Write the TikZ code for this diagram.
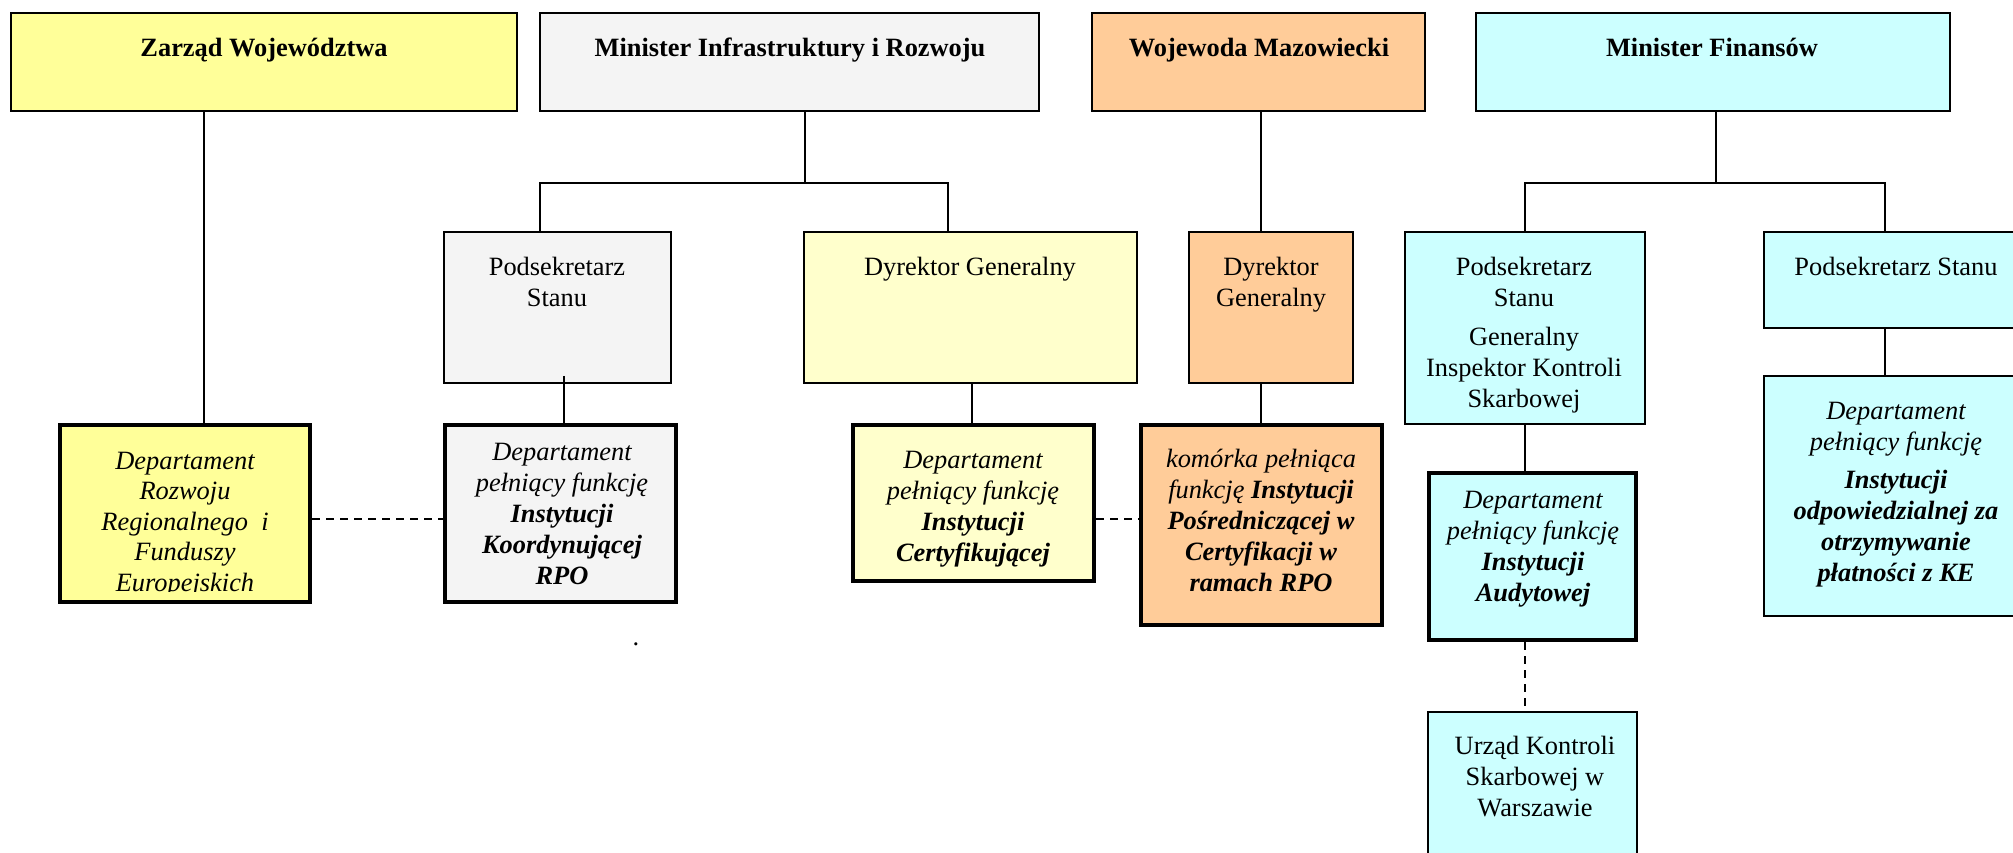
\documentclass[tikz,border=0pt]{standalone}
\usepackage{fontspec}
\setmainfont{Liberation Serif}
\usetikzlibrary{fit}
\definecolor{cyel}{HTML}{FFFF99}
\definecolor{cgray}{HTML}{F4F4F4}
\definecolor{clyel}{HTML}{FFFFCC}
\definecolor{corg}{HTML}{FFCC99}
\definecolor{ccyan}{HTML}{CCFFFF}
\tikzset{
  box/.style={draw=black, line width=0.75pt, inner sep=0pt},
  thickbox/.style={draw=black, line width=2pt, inner sep=0pt},
  txt/.style={align=center, inner sep=0pt, anchor=base, font=\fontsize{13.2pt}{15.5pt}\selectfont},
  itxt/.style={txt, font=\fontsize{13.2pt}{15.5pt}\selectfont\itshape},
  conn/.style={line width=0.8pt},
  dashlink/.style={line width=0.8pt, dash pattern=on 4pt off 3pt}
}
\begin{document}
\begin{tikzpicture}[x=0.5pt,y=-0.5pt]
\useasboundingbox (0,0) rectangle (2013,852);
\clip (0,0) rectangle (2013,852);
\fill[white] (0,0) rectangle (2013,852);
% top row
\node[box, fill=cyel,  fit={(11,13) (517,111)}] (zw) {};
\node[box, fill=cgray, fit={(540,13) (1039,111)}] (mir) {};
\node[box, fill=corg,  fit={(1092,13) (1425,111)}] (wm) {};
\node[box, fill=ccyan, fit={(1476,13) (1950,111)}] (mf) {};
% second row
\node[box, fill=cgray, fit={(444,232) (671,383)}] (ps1) {};
\node[box, fill=clyel, fit={(804,232) (1137,383)}] (dg1) {};
\node[box, fill=corg,  fit={(1189,232) (1353,383)}] (dg2) {};
\node[box, fill=ccyan, fit={(1405,232) (1645,424)}] (giks) {};
\node[box, fill=ccyan, fit={(1764,232) (2040,328)}] (ps2) {};
% third row
\node[thickbox, fill=cyel,  fit={(60,425) (310,602)}] (drr) {};
\node[thickbox, fill=cgray, fit={(445,425) (676,602)}] (kor) {};
\node[thickbox, fill=clyel, fit={(853,425) (1094,581)}] (cer) {};
\node[thickbox, fill=corg,  fit={(1141,425) (1382,625)}] (pos) {};
\node[thickbox, fill=ccyan, fit={(1429,473) (1636,640)}] (aud) {};
\node[box, fill=ccyan, fit={(1764,376) (2040,616)}] (ke) {};
\node[box, fill=ccyan, fit={(1428,712) (1637,880)}] (urz) {};
% helper coordinates
\coordinate (cz) at (204,0);
\coordinate (mirbus) at (805,183);
\coordinate (mirL) at (540,183);
\coordinate (mirR) at (948,183);
\coordinate (ck) at (564,0);
\coordinate (cc) at (972,0);
\coordinate (cw) at (1261,0);
\coordinate (mfbus) at (1716,183);
\coordinate (mfL) at (1525,183);
\coordinate (mfR) at (1885,183);
\coordinate (dy) at (0,519);
% connectors
\draw[conn] (zw.south -| cz) -- (drr.north -| cz);
\draw[conn] (mir.south -| mirbus) -- (mirbus);
\draw[conn] (ps1.north -| mirL) -- (mirL) -- (mirR) -- (dg1.north -| mirR);
\draw[conn] ([yshift=4pt]ps1.south -| ck) -- (kor.north -| ck);
\draw[conn] (dg1.south -| cc) -- (cer.north -| cc);
\draw[conn] (wm.south -| cw) -- (dg2.north -| cw);
\draw[conn] (dg2.south -| cw) -- (pos.north -| cw);
\draw[conn] (mf.south -| mfbus) -- (mfbus);
\draw[conn] (giks.north -| mfL) -- (mfL) -- (mfR) -- (ps2.north -| mfR);
\draw[conn] (giks.south -| mfL) -- (aud.north -| mfL);
\draw[conn] (ps2.south -| mfR) -- (ke.north -| mfR);
\draw[dashlink] (drr.east |- dy) -- (kor.west |- dy);
\draw[dashlink] (cer.east |- dy) -- (pos.west |- dy);
\draw[dashlink] (aud.south -| mfL) -- (urz.north -| mfL);
% texts (anchor base = baseline of last line)
\node[txt] (tzw) at (264,56) {\textbf{Zarząd Województwa}};
\node[txt] (tmir) at (790,56) {\textbf{Minister Infrastruktury i Rozwoju}};
\node[txt] (twm) at (1259,56) {\textbf{Wojewoda Mazowiecki}};
\node[txt] (tmf) at (1712,56) {\textbf{Minister Finansów}};
\node[txt] (tps1) at (557,306) {Podsekretarz\\Stanu};
\node[txt] (tdg1) at (970,275) {Dyrektor Generalny};
\node[txt] (tdg2) at (1271,306) {Dyrektor\\Generalny};
\node[txt] (tgiks) at (1524,407) {Podsekretarz\\Stanu\\[4pt]Generalny\\Inspektor Kontroli\\Skarbowej};
\node[txt] (tps2) at (1896,275) {Podsekretarz Stanu};
\begin{scope}
\clip (60,425) rectangle (310,591);
\node[itxt, font=\fontsize{13.2pt}{15.25pt}\selectfont\itshape] (tdrr) at (185,591) {Departament\\Rozwoju\\Regionalnego\ \ i\\Funduszy\\Europejskich};
\end{scope}
\node[itxt] (tkor) at (562,584) {Departament\\pełniący funkcję\\\textbf{Instytucji}\\\textbf{Koordynującej}\\\textbf{RPO}};
\node[itxt] (tcer) at (973,561) {Departament\\pełniący funkcję\\\textbf{Instytucji}\\\textbf{Certyfikującej}};
\node[itxt] (tpos) at (1261,591) {komórka pełniąca\\funkcję \textbf{Instytucji}\\\textbf{Pośredniczącej w}\\\textbf{Certyfikacji w}\\\textbf{ramach RPO}};
\node[itxt] (taud) at (1533,601) {Departament\\pełniący funkcję\\\textbf{Instytucji}\\\textbf{Audytowej}};
\node[itxt] (tke) at (1896,581) {Departament\\pełniący funkcję\\[3.5pt]\textbf{Instytucji}\\\textbf{odpowiedzialnej za}\\\textbf{otrzymywanie}\\\textbf{płatności z KE}};
\node[txt] (turz) at (1535,816) {Urząd Kontroli\\Skarbowej w\\Warszawie};
\node[txt] (tdot) at (636,645) {.};
\end{tikzpicture}
\end{document}
